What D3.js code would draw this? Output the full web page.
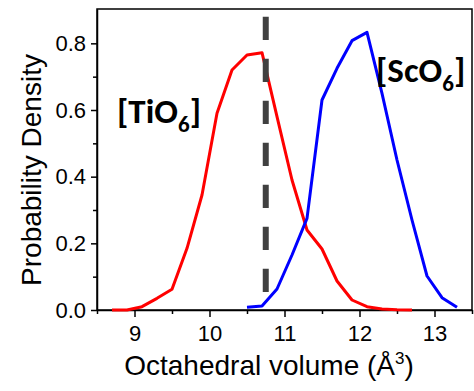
<!DOCTYPE html>
<html>
<head>
<meta charset="utf-8">
<script src="https://cdn.jsdelivr.net/npm/d3@7"></script>
<style>
  body { margin: 0; background: #fff; }
  .axis text { font-family: "Liberation Sans", Arial, sans-serif; font-size: 22px; fill: #000; }
  .axis path, .axis line { stroke: #000; stroke-width: 1.5; }
  .label { font-family: "Liberation Sans", Arial, sans-serif; font-size: 28px; fill: #000; }
  .tag { font-family: Carlito, Lato, "Open Sans", sans-serif; font-weight: bold; font-size: 35px; fill: #000; }
</style>
</head>
<body>
<div id="chart"></div>
<script>
// data
let tiVolume = [8.7, 8.9, 9.1, 9.3, 9.5, 9.7, 9.9, 10.1, 10.3, 10.5, 10.7, 10.9, 11.1, 11.3, 11.5, 11.7, 11.9, 12.1, 12.3, 12.5, 12.7];
let tiDensity = [0.0, 0.0, 0.01, 0.035, 0.062, 0.185, 0.345, 0.59, 0.72, 0.765, 0.772, 0.58, 0.39, 0.24, 0.183, 0.087, 0.03, 0.01, 0.003, 0.001, 0.0];
let scVolume = [10.5, 10.7, 10.9, 11.1, 11.3, 11.5, 11.7, 11.9, 12.1, 12.3, 12.5, 12.7, 12.9, 13.1, 13.3];
let scDensity = [0.008, 0.012, 0.063, 0.165, 0.275, 0.63, 0.725, 0.808, 0.833, 0.65, 0.45, 0.27, 0.102, 0.037, 0.008];
let xTicks = [9, 10, 11, 12, 13];
let xMinor = [8.5, 9.5, 10.5, 11.5, 12.5, 13.5];
let yTicks = [0.0, 0.2, 0.4, 0.6, 0.8];
let yMinor = [0.1, 0.3, 0.5, 0.7];
let cutVolume = 10.75;
let cutTop = 0.88;

let width = 474;
let height = 391;
let plotLeft = 97, plotRight = 472, plotTop = 9, plotBottom = 310;

let svg = d3.select("#chart").append("svg")
  .attr("width", width)
  .attr("height", height);

let xScale = d3.scaleLinear().domain([8.5, 13.5]).range([plotLeft, plotRight]);
let yScale = d3.scaleLinear().domain([0, 0.903]).range([plotBottom, plotTop]);

// frame (top + right edges)
svg.append("rect")
  .attr("x", plotLeft).attr("y", plotTop)
  .attr("width", plotRight - plotLeft).attr("height", plotBottom - plotTop)
  .attr("fill", "none").attr("stroke", "#000").attr("stroke-width", 1.5);

// minor ticks
svg.append("g").attr("class", "axis")
  .attr("transform", "translate(0," + plotBottom + ")")
  .call(d3.axisBottom(xScale).tickValues(xMinor).tickSize(4).tickFormat(""))
  .select(".domain").remove();
svg.append("g").attr("class", "axis")
  .attr("transform", "translate(" + plotLeft + ",0)")
  .call(d3.axisLeft(yScale).tickValues(yMinor).tickSize(4).tickFormat(""))
  .select(".domain").remove();

// major axes
svg.append("g").attr("class", "axis")
  .attr("transform", "translate(0," + plotBottom + ")")
  .call(d3.axisBottom(xScale).tickValues(xTicks).tickSize(7).tickPadding(8).tickSizeOuter(0).tickFormat(d3.format("d")));
svg.append("g").attr("class", "axis")
  .attr("transform", "translate(" + plotLeft + ",0)")
  .call(d3.axisLeft(yScale).tickValues(yTicks).tickSize(6).tickPadding(5).tickSizeOuter(0).tickFormat(d3.format(".1f")));

// curves
let line = d3.line()
  .x(function(d) { return xScale(d[0]); })
  .y(function(d) { return yScale(d[1]); });

svg.append("path")
  .datum(d3.zip(tiVolume, tiDensity))
  .attr("d", line)
  .attr("fill", "none")
  .attr("stroke", "#ff0000")
  .attr("stroke-width", 3)
  .attr("stroke-linejoin", "round");

svg.append("path")
  .datum(d3.zip(scVolume, scDensity))
  .attr("d", line)
  .attr("fill", "none")
  .attr("stroke", "#0000ff")
  .attr("stroke-width", 3)
  .attr("stroke-linejoin", "round");

// dashed marker
svg.append("line")
  .attr("x1", xScale(cutVolume)).attr("x2", xScale(cutVolume))
  .attr("y1", yScale(cutTop)).attr("y2", yScale(0))
  .attr("stroke", "#404040")
  .attr("stroke-width", 6)
  .attr("stroke-dasharray", "23.3,18.7");

// axis titles
let xt = svg.append("text").attr("class", "label")
  .attr("x", 269).attr("y", 375)
  .attr("text-anchor", "middle");
xt.append("tspan").text("Octahedral volume (Å");
xt.append("tspan").attr("dy", -11).attr("font-size", 17).text("3");
xt.append("tspan").attr("dy", 11).text(")");

svg.append("text").attr("class", "label")
  .attr("transform", "translate(41," + 170 + ")rotate(-90)")
  .attr("text-anchor", "middle")
  .text("Probability Density");

// series tags
let ti = svg.append("text").attr("class", "tag").attr("x", 117).attr("y", 123);
ti.append("tspan").text("[TiO");
ti.append("tspan").attr("dy", 9).attr("font-size", 23).text("6");
ti.append("tspan").attr("dy", -9).text("]");

let sc = svg.append("text").attr("class", "tag").attr("x", 376).attr("y", 82);
sc.append("tspan").text("[ScO");
sc.append("tspan").attr("dy", 9).attr("font-size", 23).text("6");
sc.append("tspan").attr("dy", -9).text("]");
</script>
</body>
</html>
